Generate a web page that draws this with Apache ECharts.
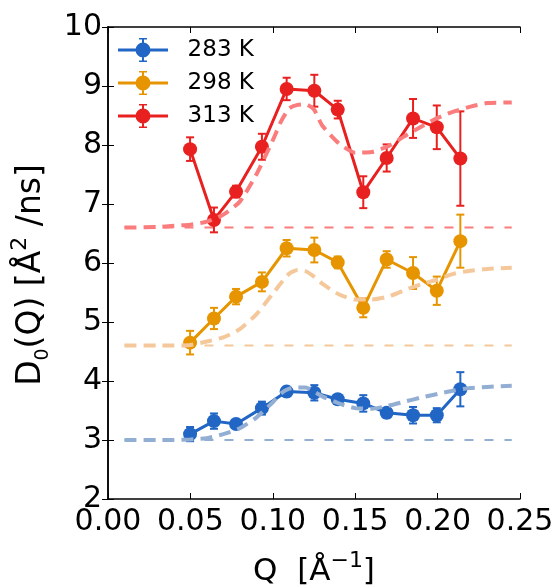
<!DOCTYPE html>
<html>
<head>
<meta charset="utf-8">
<script src="https://cdn.jsdelivr.net/npm/echarts@6/dist/echarts.min.js"></script>
<style>
  html, body { margin: 0; background: #fff; }
  #main { width: 560px; height: 585px; }
</style>
</head>
<body>
<div id="main"></div>
<script>
// measured points (Q in 1/A)
const qVals = [0.0498, 0.0643, 0.0777, 0.0934, 0.1084, 0.1252, 0.1394, 0.1549, 0.1691, 0.1851, 0.1995, 0.2138];

const d283 = [3.10, 3.32, 3.27, 3.54, 3.82, 3.80, 3.69, 3.62, 3.46, 3.42, 3.42, 3.86];
const e283 = [0.12, 0.13, 0.05, 0.11, 0.08, 0.13, 0.07, 0.14, 0.08, 0.14, 0.12, 0.29];
const d298 = [4.65, 5.06, 5.43, 5.68, 6.25, 6.22, 6.01, 5.24, 6.06, 5.83, 5.53, 6.37];
const e298 = [0.20, 0.18, 0.13, 0.16, 0.14, 0.21, 0.10, 0.16, 0.14, 0.27, 0.24, 0.45];
const d313 = [7.93, 6.73, 7.21, 7.97, 8.95, 8.92, 8.60, 7.20, 7.78, 8.45, 8.30, 7.77];
const e313 = [0.20, 0.21, 0.10, 0.22, 0.19, 0.27, 0.15, 0.27, 0.23, 0.33, 0.37, 0.80];

// model curves (dashed)
const modelQ = [0.01, 0.03, 0.04, 0.05, 0.06, 0.07, 0.08, 0.09, 0.10, 0.105, 0.11, 0.115, 0.12, 0.125, 0.13,
                0.14, 0.15, 0.16, 0.17, 0.18, 0.19, 0.20, 0.21, 0.22, 0.23, 0.245];
const m283 = [3.00, 3.00, 3.00, 3.01, 3.03, 3.10, 3.20, 3.38, 3.64, 3.79, 3.87, 3.89, 3.89, 3.82, 3.74,
              3.62, 3.54, 3.53, 3.58, 3.65, 3.72, 3.78, 3.84, 3.88, 3.90, 3.92];
const m298 = [4.60, 4.60, 4.60, 4.61, 4.67, 4.74, 4.88, 5.13, 5.48, 5.66, 5.82, 5.88, 5.86, 5.77, 5.65,
              5.47, 5.38, 5.38, 5.43, 5.54, 5.64, 5.72, 5.82, 5.87, 5.90, 5.92];
const m313 = [6.60, 6.61, 6.63, 6.65, 6.70, 6.82, 7.04, 7.50, 8.08, 8.40, 8.62, 8.68, 8.69, 8.60, 8.33,
              8.03, 7.87, 7.88, 7.98, 8.15, 8.31, 8.46, 8.57, 8.65, 8.71, 8.72];

// flat baselines
const baseQ = [0.01, 0.245];
const baseVals = [3.0, 4.6, 6.6];

const names = ["283 K", "298 K", "313 K"];
const colors = ["#2166c4", "#e69500", "#e8201f"];
const lightColors = ["#93aed3", "#f5c89c", "#fb7c7c"];

const font = "DejaVu Sans";
const dData = [d283, d298, d313];
const eData = [e283, e298, e313];
const mData = [m283, m298, m313];

// legend icon: line + circle + errorbar
const legendIcon =
  "path://M0,10.5L50,10.5L50,13.5L0,13.5Z" +
  "M17.5,12A7.5,7.5 0 1,1 32.5,12A7.5,7.5 0 1,1 17.5,12Z" +
  "M24,0L26,0L26,24L24,24Z" +
  "M21,0L29,0L29,1.5L21,1.5Z" +
  "M21,22.5L29,22.5L29,24L21,24Z";

function errRender(color) {
  return function (params, api) {
    const x = api.value(0), y = api.value(1), e = api.value(2);
    const hi = api.coord([x, y + e]);
    const lo = api.coord([x, y - e]);
    const st = { stroke: color, lineWidth: 2 };
    return {
      type: "group",
      children: [
        { type: "line", shape: { x1: hi[0], y1: hi[1], x2: lo[0], y2: lo[1] }, style: st },
        { type: "line", shape: { x1: hi[0] - 4, y1: hi[1], x2: hi[0] + 4, y2: hi[1] }, style: st },
        { type: "line", shape: { x1: lo[0] - 4, y1: lo[1], x2: lo[0] + 4, y2: lo[1] }, style: st },
      ],
    };
  };
}

let series = [];
for (let i = 0; i < 3; i++) {
  series.push({
    type: "line",
    name: "base" + i,
    data: baseQ.map((q) => [q, baseVals[i]]),
    symbol: "none",
    lineStyle: { color: lightColors[i], width: 2, type: [9, 11] },
    z: 1,
  });
  series.push({
    type: "custom",
    name: names[i] + " err",
    data: qVals.map((q, k) => [q, dData[i][k], eData[i][k]]),
    encode: { x: 0, y: 1 },
    renderItem: errRender(colors[i]),
    z: 2,
  });
  series.push({
    type: "line",
    name: names[i],
    data: qVals.map((q, k) => [q, dData[i][k]]),
    symbol: "circle",
    symbolSize: 14,
    itemStyle: { color: colors[i] },
    lineStyle: { color: colors[i], width: 3 },
    z: 3,
  });
  series.push({
    type: "line",
    name: "model" + i,
    data: modelQ.map((q, k) => [q, mData[i][k]]),
    symbol: "none",
    smooth: 0.2,
    lineStyle: { color: lightColors[i], width: 4, type: [12, 7] },
    z: 4,
  });
}

const axisLine = { show: true, lineStyle: { color: "#000", width: 1.5 } };
const axisTick = { show: true, inside: true, length: 6, lineStyle: { color: "#000", width: 1 } };

let option = {
  animation: false,
  backgroundColor: "#fff",
  grid: { left: 108, right: 40, top: 27, bottom: 86, outerBoundsMode: "none" },
  legend: {
    data: names,
    orient: "vertical",
    left: 118,
    top: 38,
    padding: 0,
    itemWidth: 50,
    itemHeight: 24,
    itemGap: 9,
    icon: legendIcon,
    formatter: (n) => "  " + n,
    textStyle: { fontSize: 23, color: "#000", fontFamily: font, lineHeight: 24 },
  },
  xAxis: [
    {
      type: "value",
      min: 0,
      max: 0.25,
      interval: 0.05,
      position: "bottom",
      axisLine: axisLine,
      axisTick: axisTick,
      splitLine: { show: false },
      axisLabel: {
        fontSize: 30,
        color: "#000",
        fontFamily: font,
        margin: 8,
        formatter: (v) => v.toFixed(2),
      },
      name: "{a|Q  [Å}{c|−1}{a|]}",
      nameLocation: "middle",
      nameGap: 51,
      nameTextStyle: {
        rich: {
          a: { fontSize: 31, fontFamily: font, color: "#000", lineHeight: 44 },
          c: { fontSize: 22, fontFamily: font, color: "#000", lineHeight: 26, verticalAlign: "top" },
        },
      },
    },
    {
      type: "value",
      min: 0,
      max: 0.25,
      interval: 0.05,
      position: "top",
      axisLine: axisLine,
      axisTick: axisTick,
      axisLabel: { show: false },
      splitLine: { show: false },
    },
  ],
  yAxis: [
    {
      type: "value",
      min: 2,
      max: 10,
      interval: 1,
      position: "left",
      axisLine: axisLine,
      axisTick: axisTick,
      splitLine: { show: false },
      axisLabel: { fontSize: 30, color: "#000", fontFamily: font, margin: 6 },
      name: "{a|D}{b|0}{a|(Q) [Å}{c|2}{a| /ns]}",
      nameLocation: "middle",
      nameRotate: 90,
      nameGap: 28,
      nameTextStyle: {
        padding: [0, 24, 0, 0],
        rich: {
          a: { fontSize: 33, fontFamily: font, color: "#000", lineHeight: 44 },
          b: { fontSize: 19, fontFamily: font, color: "#000", lineHeight: 20, verticalAlign: "bottom" },
          c: { fontSize: 22, fontFamily: font, color: "#000", lineHeight: 26, verticalAlign: "top" },
        },
      },
    },
    {
      type: "value",
      min: 2,
      max: 10,
      interval: 1,
      position: "right",
      axisLine: axisLine,
      axisTick: axisTick,
      axisLabel: { show: false },
      splitLine: { show: false },
    },
  ],
  series: series,
};

var myChart = echarts.init(document.getElementById("main"));
myChart.setOption(option);
</script>
</body>
</html>
